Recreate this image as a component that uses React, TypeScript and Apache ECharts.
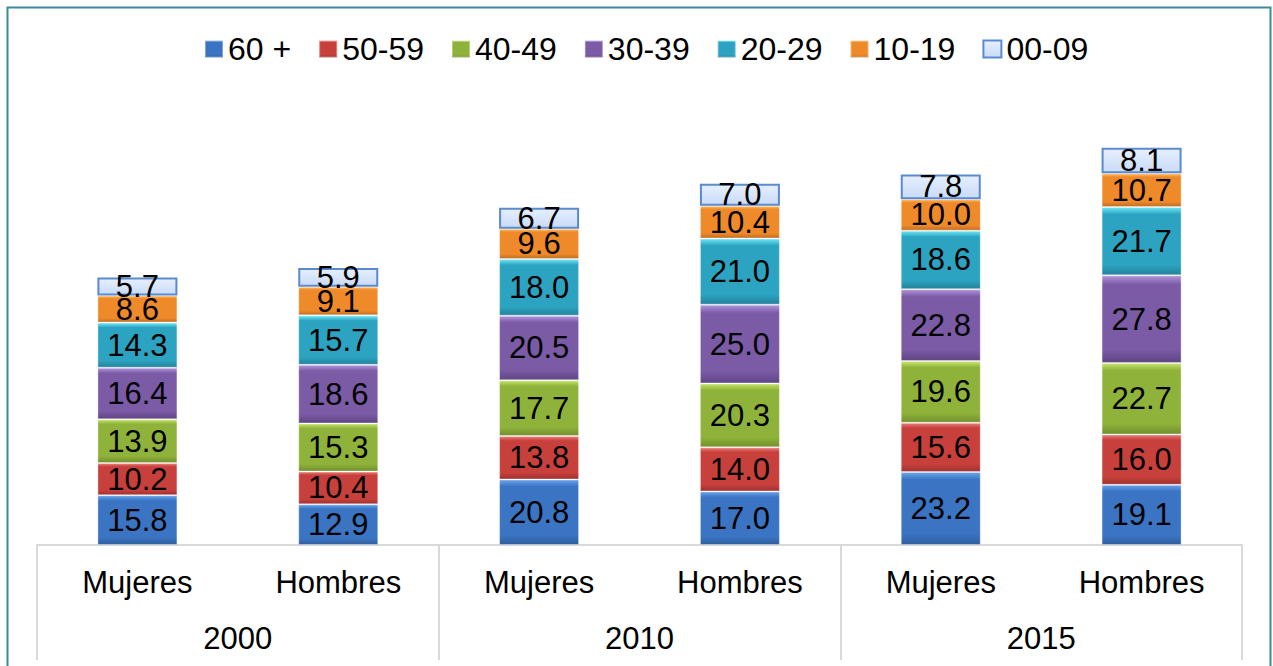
import React, { useEffect, useRef } from "react";
import * as echarts from "echarts";

const sexes = ["Mujeres", "Hombres", "Mujeres", "Hombres", "Mujeres", "Hombres"];
const years = ["2000", "2010", "2015"];
const seriesNames = ["60 +", "50-59", "40-49", "30-39", "20-29", "10-19", "00-09"];

const v60 = [15.8, 12.9, 20.8, 17.0, 23.2, 19.1];
const v50 = [10.2, 10.4, 13.8, 14.0, 15.6, 16.0];
const v40 = [13.9, 15.3, 17.7, 20.3, 19.6, 22.7];
const v30 = [16.4, 18.6, 20.5, 25.0, 22.8, 27.8];
const v20 = [14.3, 15.7, 18.0, 21.0, 18.6, 21.7];
const v10 = [8.6, 9.1, 9.6, 10.4, 10.0, 10.7];
const v00 = [5.7, 5.9, 6.7, 7.0, 7.8, 8.1];

const seriesValues = [v60, v50, v40, v30, v20, v10, v00];

const palette = [
  { top: "#6aa3ea", mid: "#3b74c3", bot: "#2f5f9f" },
  { top: "#ea7b78", mid: "#c8403c", bot: "#9f3230" },
  { top: "#c6e36c", mid: "#8fb33a", bot: "#728f2e" },
  { top: "#b194dc", mid: "#7b5aa6", bot: "#5f4584" },
  { top: "#6fe6f8", mid: "#2ca4c1", bot: "#23829a" },
  { top: "#ffbd6a", mid: "#ef8a2a", bot: "#c26d1f" },
];

const FONT = "'Liberation Sans', Arial, sans-serif";

export default function App() {
  const ref = useRef<HTMLDivElement>(null);
  useEffect(() => {
    if (!ref.current) return;
    const chart = echarts.init(ref.current, null, { renderer: "svg" });
    const series = seriesNames.map((name, i) => {
      let itemStyle: any;
      if (i < 6) {
        const p = palette[i];
        itemStyle = {
          color: new echarts.graphic.LinearGradient(0, 0, 0, 1, [
            { offset: 0, color: p.top },
            { offset: 0.1, color: p.mid },
            { offset: 0.85, color: p.mid },
            { offset: 1, color: p.bot },
          ]),
          borderColor: "rgba(255,255,255,0.35)",
          borderWidth: 1,
        };
      } else {
        itemStyle = {
          color: new echarts.graphic.LinearGradient(0, 0, 0, 1, [
            { offset: 0, color: "#e6efff" },
            { offset: 1, color: "#c9dbf6" },
          ]),
          borderColor: "#5a8ad0",
          borderWidth: 2,
        };
      }
      return {
        name,
        type: "bar",
        stack: "total",
        barWidth: 80,
        data: seriesValues[i],
        itemStyle,
        label: {
          show: true,
          position: "inside",
          color: "#000",
          fontSize: 31,
          fontFamily: FONT,
          formatter: (p: any) => Number(p.value).toFixed(1),
        },
      };
    });
    chart.setOption({
      animation: false,
      backgroundColor: "#fff",
      legend: {
        top: 28,
        left: 199,
        icon: "rect",
        itemWidth: 18,
        itemHeight: 17,
        itemGap: 27,
        data: seriesNames,
        textStyle: { fontSize: 32, color: "#000", fontFamily: FONT },
      },
      grid: { left: 37, right: 31, top: 104, bottom: 121 },
      xAxis: [
        {
          type: "category",
          data: sexes,
          position: "bottom",
          axisLine: { show: true, lineStyle: { color: "#d9d9d9", width: 2 } },
          axisTick: { show: false },
          axisLabel: { fontSize: 31, color: "#000", fontFamily: FONT, margin: 22 },
        },
        {
          type: "category",
          data: years,
          position: "bottom",
          axisLine: { show: false },
          axisTick: { show: true, length: 115, lineStyle: { color: "#d9d9d9", width: 2 } },
          axisLabel: { fontSize: 31, color: "#000", fontFamily: FONT, margin: 78 },
        },
      ],
      yAxis: {
        type: "value",
        min: 0,
        max: 140,
        show: false,
        splitLine: { show: false },
      },
      graphic: [
        {
          type: "rect",
          shape: { x: 7.5, y: 7.5, width: 1263, height: 700 },
          style: { fill: "none", stroke: "#3a8a9c", lineWidth: 2 },
          z: 100,
        },
      ],
      series,
    });
    return () => chart.dispose();
  }, []);
  return (
    <div
      ref={ref}
      style={{ position: "fixed", left: 0, top: 0, width: 1273, height: 666 }}
    />
  );
}
